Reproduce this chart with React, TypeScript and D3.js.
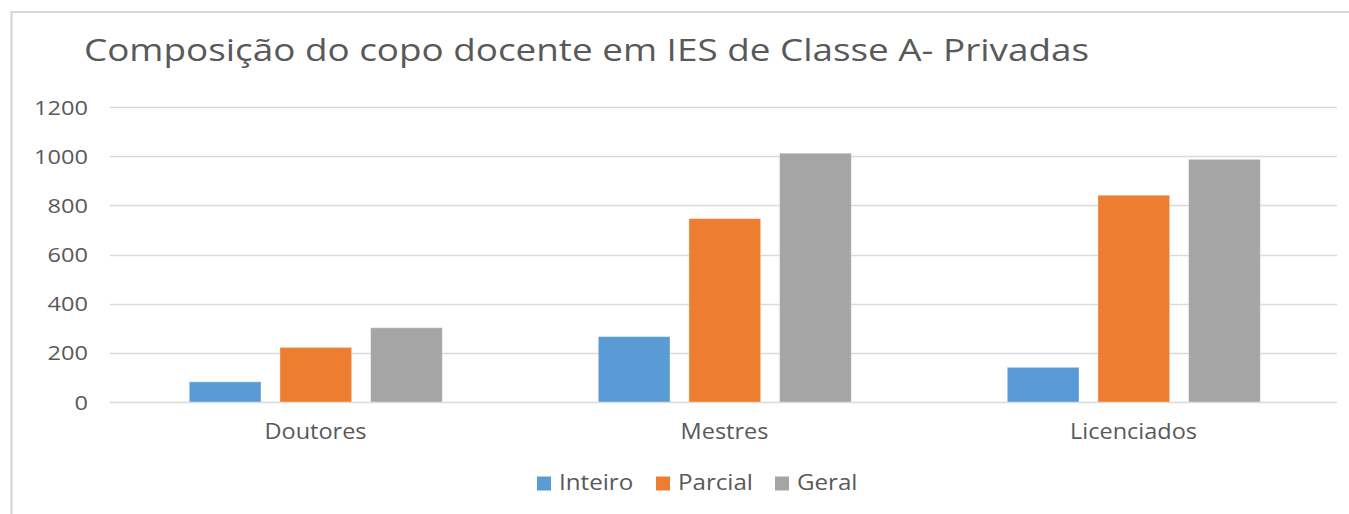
import React from "react";
import * as d3 from "d3";

const title = "Composição do copo docente em IES de Classe A- Privadas";
const categories = ["Doutores", "Mestres", "Licenciados"];
const seriesNames = ["Inteiro", "Parcial", "Geral"];
const inteiro = [82, 266, 141];
const parcial = [222, 746, 841];
const geral = [302, 1012, 987];
const yTicks = [0, 200, 400, 600, 800, 1000, 1200];
const colors = ["#5B9BD5", "#ED7D31", "#A5A5A5"];

const W = 1349;
const H = 514;
const FONT = "'Open Sans', 'Segoe UI', sans-serif";
const TXT = "#595959";
const SX = 1.15;

export default function App() {
  const values = [inteiro, parcial, geral];
  const y = d3.scaleLinear().domain([0, 1200]).range([402, 107]);
  const x0 = d3.scaleBand<string>().domain(categories).range([110, 1337]).paddingInner(0).paddingOuter(0);
  const bw = x0.bandwidth();
  const x1 = d3
    .scaleBand<string>()
    .domain(seriesNames)
    .range([79.3, bw - 76.7])
    .paddingInner(0.209)
    .paddingOuter(0);

  const legendX = [537, 656, 775];

  return (
    <svg
      width={W}
      height={H}
      style={{ position: "absolute", left: 0, top: 0, background: "#fff" }}
      fontFamily={FONT}
    >
      <rect x={0} y={0} width={W} height={H} fill="#fff" />
      {/* frame */}
      <line x1={11.5} x2={W} y1={12} y2={12} stroke="#d9d9d9" strokeWidth={2} />
      <line x1={11.5} x2={11.5} y1={11} y2={H} stroke="#d9d9d9" strokeWidth={2.5} />

      {/* title */}
      <text x={84} y={61} fontSize={31} fill={TXT} textLength={1005} lengthAdjust="spacingAndGlyphs">
        {title}
      </text>

      {/* gridlines */}
      {yTicks.map((t) => (
        <line key={t} x1={110} x2={1337} y1={Math.round(y(t)) + 0.5} y2={Math.round(y(t)) + 0.5} stroke="#d9d9d9" strokeWidth={1.5} />
      ))}
      {yTicks.map((t) => (
        <text
          key={"l" + t}
          transform={`translate(88,${y(t) + 7.5}) scale(${SX},1)`}
          textAnchor="end"
          fontSize={20.5}
          fill={TXT}
        >
          {t}
        </text>
      ))}

      {/* bars */}
      {categories.map((c, ci) => (
        <g key={c} transform={`translate(${x0(c)},0)`}>
          {seriesNames.map((s, si) => {
            const v = values[si][ci];
            return (
              <rect
                key={s}
                x={x1(s)}
                y={y(v)}
                width={x1.bandwidth()}
                height={y(0) - y(v)}
                fill={colors[si]}
                stroke="#ffffff"
                strokeOpacity={0.35}
                strokeWidth={1}
              />
            );
          })}
          <text
            transform={`translate(${bw / 2 + 1},${439}) scale(1.12,1)`}
            textAnchor="middle"
            fontSize={21}
            fill={TXT}
          >
            {c}
          </text>
        </g>
      ))}

      {/* legend */}
      {seriesNames.map((s, si) => (
        <g key={s}>
          <rect x={legendX[si]} y={476.5} width={14} height={14} fill={colors[si]} />
          <text
            transform={`translate(${legendX[si] + 22},${490}) scale(${SX},1)`}
            fontSize={21}
            fill={TXT}
          >
            {s}
          </text>
        </g>
      ))}
    </svg>
  );
}
